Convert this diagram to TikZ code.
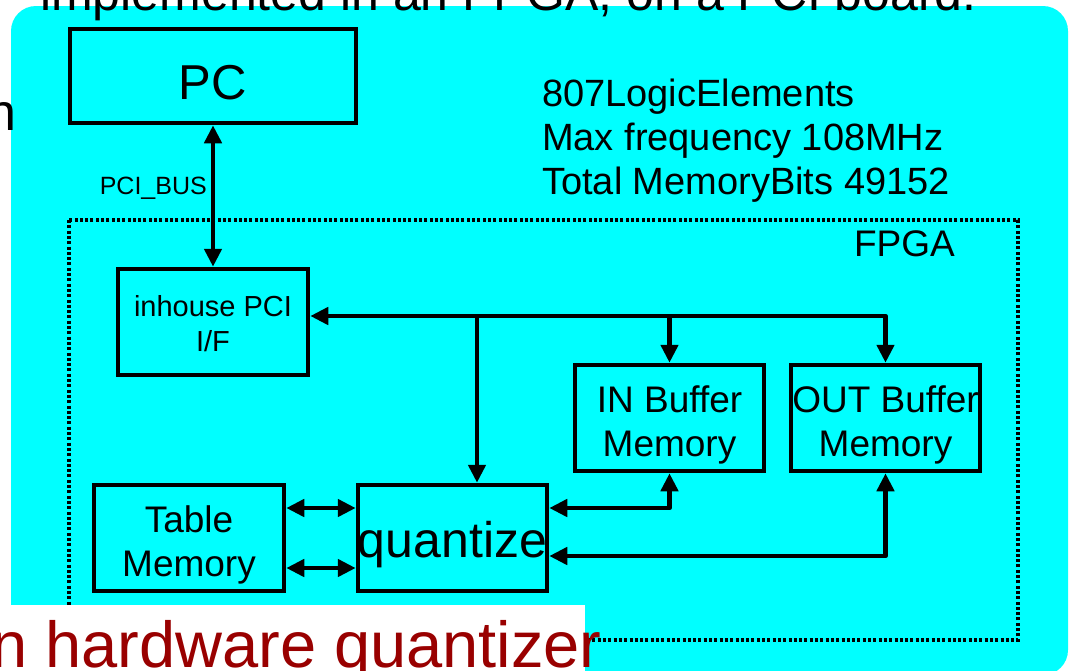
\documentclass[tikz,border=0pt]{standalone}
\usepackage{fontspec}
\setmainfont{Liberation Sans}
\usetikzlibrary{arrows.meta, positioning}
\definecolor{fondoCian}{HTML}{00FFFF}
\definecolor{rojoOscuro}{HTML}{990000}

\begin{document}
\begin{tikzpicture}[x=1pt, y=-1pt, >={Triangle[length=18pt,width=17pt]},
        blk/.style={draw, line width=4.5pt, minimum width=189pt, minimum height=106pt, inner sep=0pt},
        blktxt/.style={inner sep=0pt, align=center, font=\fontsize{37}{44}\selectfont},
        tr/.style={line width=4.5pt, line join=round},
        fpga/.style={line width=3.5pt, dash pattern=on 3pt off 2.3pt},
        txt/.style={inner sep=0pt, anchor=base west, font=\fontsize{38}{44}\selectfont}]
    \useasboundingbox (0,0) rectangle (1070,670);
    \clip (0,0) rectangle (1070,670);
    % board background
    \fill[fondoCian, rounded corners=25pt] (11,6) rectangle (1068,675);
    % slide text showing behind
    \node[inner sep=0pt, anchor=base east, font=\fontsize{50}{60}\selectfont] (titulo) at (977,10)
        {implemented in an FPGA, on a PCI board.};
    \node[inner sep=0pt, anchor=base east, font=\fontsize{52}{60}\selectfont] (frag) at (17,130) {n};
    % FPGA area
    \draw[fpga] (69,220) rectangle (1018,640);
    \node[inner sep=0pt, anchor=base east, font=\fontsize{37}{44}\selectfont] (fpgalbl) at (955,256) {FPGA};
    \node[txt] (l1) at (542,106) {807LogicElements};
    \node[txt] (l2) at (542,150) {Max frequency 108MHz};
    \node[txt] (l3) at (542,194) {Total MemoryBits 49152};
    % blocks
    \node[blk, minimum width=286pt, minimum height=94pt] (pc) at (213,76) {};
    \node[blk, minimum width=190pt] (inh) at (213,322) {};
    \node[blk] (inb) at (669.5,418) {};
    \node[blk] (outb) at (885.5,418) {};
    \node[blk] (quant) at (452.5,538) {};
    \node[blk, minimum width=190pt] (tbl) at (189,538) {};
    \node[blktxt, font=\fontsize{49}{56}\selectfont] (pct) at ([yshift=-6.5pt]pc.center) {PC};
    \node[blktxt, font=\fontsize{29}{35}\selectfont] (inht) at ([yshift=-2pt]inh.center) {inhouse PCI\\I/F};
    \node[blktxt] (inbt) at ([yshift=-6.5pt]inb.center) {IN Buffer\\Memory};
    \node[blktxt] (outbt) at ([yshift=-6.5pt]outb.center) {OUT Buffer\\Memory};
    \node[blktxt, font=\fontsize{50}{56}\selectfont] (quantt) at ([yshift=-7pt]quant.center) {quantize};
    \node[blktxt] (tblt) at ([yshift=-6.5pt]tbl.center) {Table\\Memory};
    % connections
    \draw[tr,<->] (pc) -- (inh);
    \node[inner sep=0pt, anchor=east, font=\fontsize{25}{30}\selectfont] (bus) at (207,188) {PCI\_BUS};
    \coordinate (jq) at (477,316);
    \draw[tr,->] (jq) -- (inh.east |- jq);
    \draw[tr,->] (jq) -- (jq |- quant.north);
    \draw[tr,->] (jq) -| (inb.north);
    \draw[tr,->] (jq) -| (outb.north);
    \draw[tr,<->] ([yshift=30pt]tbl.east) -- ([yshift=30pt]quant.west);
    \draw[tr,<->] ([yshift=-30pt]tbl.east) -- ([yshift=-30pt]quant.west);
    \draw[tr,<->] ([yshift=30pt]quant.east) -| (inb.south);
    \draw[tr,<->] ([yshift=-18pt]quant.east) -| (outb.south);
    % slide caption over the board
    \fill[white] (0,605) rectangle (585,680);
    \node[inner sep=0pt, anchor=base east, text=rojoOscuro, font=\fontsize{65}{72}\selectfont] (pie) at (602,667)
        {n hardware quantizer};
\end{tikzpicture}
\end{document}
